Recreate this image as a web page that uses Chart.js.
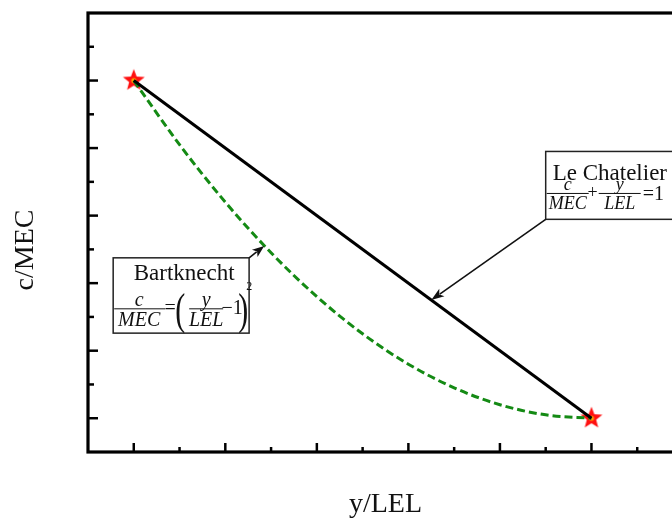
<!DOCTYPE html>
<html><head><meta charset="utf-8">
<script src="https://cdn.jsdelivr.net/npm/chart.js@4.4.1/dist/chart.umd.min.js"></script>
<style>html,body{margin:0;padding:0;overflow:hidden;background:#fff;width:672px;height:521px}canvas{display:block}</style>
</head><body><canvas id="c" width="700" height="521"></canvas>
<script>
// ---- data ----
const xAxisTitle = 'y/LEL';
const yAxisTitle = 'c/MEC';
const seriesNames = ['Le Chatelier', 'Bartknecht'];
const leChatelierX = [0, 1];
const leChatelierY = [1, 0];
const bartknechtX = [0, 0.1, 0.2, 0.3, 0.4, 0.5, 0.6, 0.7, 0.8, 0.9, 1];
const bartknechtY = [1, 0.81, 0.64, 0.49, 0.36, 0.25, 0.16, 0.09, 0.04, 0.01, 0];
const endpointX = [0, 1];
const endpointY = [1, 0];
const xTickValues = [0, 0.1, 0.2, 0.3, 0.4, 0.5, 0.6, 0.7, 0.8, 0.9, 1.0, 1.1];
const yTickValues = [0, 0.1, 0.2, 0.3, 0.4, 0.5, 0.6, 0.7, 0.8, 0.9, 1.0, 1.1];

const toPts = (xs, ys) => xs.map((x, i) => ({x: x, y: ys[i]}));

function makeStar() {
  const c = document.createElement('canvas');
  c.width = 26; c.height = 26;
  const g = c.getContext('2d');
  g.beginPath();
  for (let i = 0; i < 10; i++) {
    const r = i % 2 ? 4.9 : 11.5;
    const a = -Math.PI / 2 + i * Math.PI / 5;
    g.lineTo(13 + r * Math.cos(a), 13 + r * Math.sin(a));
  }
  g.closePath();
  g.fillStyle = '#ff1010';
  g.fill();
  g.beginPath();
  g.arc(13, 13, 2.6, 0, Math.PI * 2);
  g.fillStyle = '#ff9a00';
  g.fill();
  return c;
}
const starImg = makeStar();

const SERIF = '"Liberation Serif", "DejaVu Serif", serif';

function arrow(ctx, x0, y0, x1, y1, headLen, headW) {
  const a = Math.atan2(y1 - y0, x1 - x0);
  ctx.beginPath();
  ctx.moveTo(x0, y0);
  ctx.lineTo(x1 - Math.cos(a) * headLen * 0.8, y1 - Math.sin(a) * headLen * 0.8);
  ctx.stroke();
  ctx.beginPath();
  ctx.moveTo(x1, y1);
  ctx.lineTo(x1 - headLen * Math.cos(a) + headW / 2 * Math.sin(a), y1 - headLen * Math.sin(a) - headW / 2 * Math.cos(a));
  ctx.lineTo(x1 - headLen * 0.75 * Math.cos(a), y1 - headLen * 0.75 * Math.sin(a));
  ctx.lineTo(x1 - headLen * Math.cos(a) - headW / 2 * Math.sin(a), y1 - headLen * Math.sin(a) + headW / 2 * Math.cos(a));
  ctx.closePath();
  ctx.fill();
}

function frac(ctx, num, den, cx, barY, x0, x1, size) {
  ctx.font = 'italic ' + size + 'px ' + SERIF;
  ctx.textAlign = 'center';
  ctx.textBaseline = 'alphabetic';
  ctx.fillText(num, cx, barY - 3);
  ctx.fillText(den, cx, barY + size * 0.88);
  ctx.beginPath();
  ctx.lineWidth = 1;
  ctx.moveTo(x0, barY);
  ctx.lineTo(x1, barY);
  ctx.stroke();
}

const decor = {
  id: 'decor',
  afterDatasetsDraw(chart) {
    const {ctx, chartArea: ca, scales: {x, y}} = chart;
    ctx.save();
    ctx.strokeStyle = '#000';
    ctx.fillStyle = '#000';
    // frame
    ctx.lineWidth = 3.2;
    ctx.strokeRect(ca.left, ca.top, ca.right - ca.left, ca.bottom - ca.top);
    // inward ticks
    ctx.lineWidth = 2.5;
    x.ticks.forEach((t, i) => {
      const px = x.getPixelForValue(t.value);
      const len = i % 2 === 0 ? 9 : 5;
      ctx.beginPath(); ctx.moveTo(px, ca.bottom); ctx.lineTo(px, ca.bottom - len); ctx.stroke();
    });
    y.ticks.forEach((t, i) => {
      const py = y.getPixelForValue(t.value);
      const len = i % 2 === 0 ? 10 : 6;
      ctx.beginPath(); ctx.moveTo(ca.left, py); ctx.lineTo(ca.left + len, py); ctx.stroke();
    });
    // y axis title
    ctx.save();
    ctx.translate(26, 250);
    ctx.rotate(-Math.PI / 2);
    ctx.font = '28px ' + SERIF;
    ctx.fillStyle = '#111';
    ctx.textAlign = 'center';
    ctx.textBaseline = 'middle';
    ctx.fillText(yAxisTitle, 0, 0);
    ctx.restore();

    // --- Le Chatelier annotation ---
    let L = x.getPixelForValue(0.9), T = y.getPixelForValue(0.79);
    let R = x.getPixelForValue(1.19), B = y.getPixelForValue(0.589);
    ctx.fillStyle = '#fff';
    ctx.fillRect(L, T, R - L, B - T);
    ctx.lineWidth = 1.5; ctx.strokeStyle = '#222';
    ctx.strokeRect(L, T, R - L, B - T);
    ctx.fillStyle = '#111'; ctx.strokeStyle = '#111';
    ctx.font = '23px ' + SERIF;
    ctx.textAlign = 'left'; ctx.textBaseline = 'alphabetic';
    ctx.fillText(seriesNames[0], L + 7, T + 29);
    frac(ctx, 'c', 'MEC', L + 22, T + 42, L + 1, L + 43, 18);
    ctx.font = '18px ' + SERIF; ctx.textAlign = 'center'; ctx.textBaseline = 'middle';
    ctx.fillText('+', L + 47, T + 42);
    frac(ctx, 'y', 'LEL', L + 74, T + 42, L + 53, L + 95, 18);
    ctx.font = '20px ' + SERIF; ctx.textAlign = 'left'; ctx.textBaseline = 'middle';
    ctx.fillText('=1', L + 97, T + 43);
    ctx.lineWidth = 1.6; ctx.strokeStyle = '#111'; ctx.fillStyle = '#111';
    arrow(ctx, L, B, x.getPixelForValue(0.65), y.getPixelForValue(0.35), 13, 9);

    // --- Bartknecht annotation ---
    L = x.getPixelForValue(-0.045); T = y.getPixelForValue(0.475);
    R = x.getPixelForValue(0.252); B = y.getPixelForValue(0.252);
    ctx.fillStyle = '#fff';
    ctx.fillRect(L, T, R - L, B - T);
    ctx.lineWidth = 1.5; ctx.strokeStyle = '#222';
    ctx.strokeRect(L, T, R - L, B - T);
    ctx.fillStyle = '#111'; ctx.strokeStyle = '#111';
    ctx.font = '23px ' + SERIF;
    ctx.textAlign = 'center'; ctx.textBaseline = 'alphabetic';
    ctx.fillText(seriesNames[1], L + 71, T + 22);
    frac(ctx, 'c', 'MEC', L + 26, T + 51, L + 1, L + 52, 20);
    ctx.font = '20px ' + SERIF; ctx.textAlign = 'center'; ctx.textBaseline = 'middle';
    ctx.fillText('=', L + 57, T + 51);
    ctx.save();
    ctx.translate(L + 67, T + 66);
    ctx.scale(1, 1.45);
    ctx.font = '30px ' + SERIF; ctx.textBaseline = 'alphabetic';
    ctx.fillText('(', 0, 0);
    ctx.fillText(')', 63, 0);
    ctx.restore();
    frac(ctx, 'y', 'LEL', L + 93, T + 51, L + 76, L + 110, 20);
    ctx.font = '20px ' + SERIF; ctx.textAlign = 'center'; ctx.textBaseline = 'middle';
    ctx.fillText('\u22121', L + 119, T + 51);
    ctx.font = '12px ' + SERIF; ctx.textAlign = 'left'; ctx.textBaseline = 'alphabetic';
    ctx.fillText('2', L + 133, T + 32);
    ctx.lineWidth = 1.6;
    arrow(ctx, R, T, x.getPixelForValue(0.285), y.getPixelForValue(0.51), 12, 9);
    ctx.restore();
  }
};

new Chart(document.getElementById('c'), {
  type: 'scatter',
  data: {
    datasets: [
      {
        label: seriesNames[0],
        data: toPts(leChatelierX, leChatelierY),
        showLine: true,
        borderColor: '#000',
        borderWidth: 3,
        pointRadius: 0,
        order: 1
      },
      {
        label: seriesNames[1],
        data: toPts(bartknechtX, bartknechtY),
        showLine: true,
        borderColor: '#148a14',
        borderWidth: 3,
        borderDash: [8, 4],
        cubicInterpolationMode: 'monotone',
        pointRadius: 0,
        order: 2
      },
      {
        label: 'endpoints',
        data: toPts(endpointX, endpointY),
        pointStyle: starImg,
        pointRadius: 12,
        showLine: false,
        order: 3
      }
    ]
  },
  options: {
    responsive: false,
    animation: false,
    devicePixelRatio: 1,
    layout: {padding: {top: 9, right: 17, left: 0, bottom: 0}},
    plugins: {legend: {display: false}, tooltip: {enabled: false}},
    scales: {
      x: {
        type: 'linear', min: -0.1, max: 1.2,
        grid: {display: false}, border: {display: false},
        ticks: {display: false},
        afterBuildTicks: s => { s.ticks = xTickValues.map(v => ({value: v})); },
        afterFit: s => { s.height = 69; },
        title: {display: true, text: xAxisTitle, color: '#111',
          font: {family: SERIF, size: 28, lineHeight: 1}, padding: {top: 0, bottom: 2}}
      },
      y: {
        type: 'linear', min: -0.1, max: 1.2,
        grid: {display: false}, border: {display: false},
        ticks: {display: false},
        afterBuildTicks: s => { s.ticks = yTickValues.map(v => ({value: v})); },
        afterFit: s => { s.width = 88; }
      }
    }
  },
  plugins: [decor]
});
</script>
</body></html>
